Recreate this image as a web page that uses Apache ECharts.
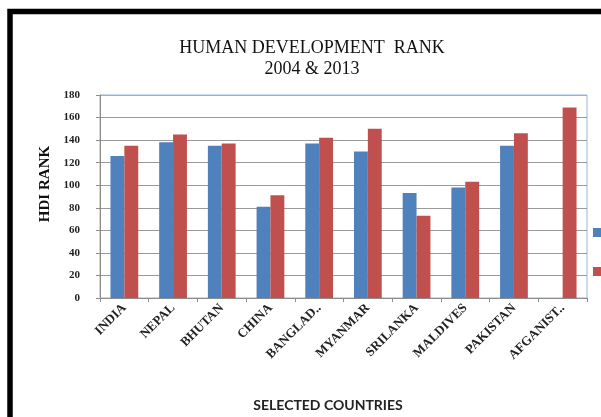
<!DOCTYPE html>
<html>
<head>
<meta charset="utf-8">
<script src="https://cdn.jsdelivr.net/npm/echarts@6/dist/echarts.min.js"></script>
<style>
  html, body { margin: 0; padding: 0; background: #fff; }
  #main { width: 601px; height: 417px; }
</style>
</head>
<body>
<div id="main"></div>
<script>
var countries = ['INDIA', 'NEPAL', 'BHUTAN', 'CHINA', 'BANGLAD..', 'MYANMAR', 'SRILANKA', 'MALDIVES', 'PAKISTAN', 'AFGANIST..'];
var rank2004 = [126, 138, 135, 81, 137, 130, 93, 98, 135, null];
var rank2013 = [135, 145, 137, 91, 142, 150, 73, 103, 146, 169];
var yTicks = [0, 20, 40, 60, 80, 100, 120, 140, 160, 180];

var chart = echarts.init(document.getElementById('main'));

// gridlines gray, the 180 one light blue like the frame
var gridColors = yTicks.map(function (v) { return v === 180 ? '#95b3d7' : '#9a9a9a'; });

var option = {
    animation: false,
    title: {
        text: 'HUMAN DEVELOPMENT  RANK\n2004 & 2013',
        left: 307,
        textAlign: 'center',
        top: 33,
        textStyle: {
            fontFamily: 'Liberation Serif',
            fontWeight: 'normal',
            fontSize: 18,
            lineHeight: 21,
            color: '#111'
        }
    },
    legend: {
        orient: 'vertical',
        left: 593,
        top: 228,
        padding: 0,
        itemWidth: 8,
        itemHeight: 9,
        itemGap: 30,
        icon: 'rect',
        textStyle: { fontSize: 8, lineHeight: 9 },
        data: ['2004', '2013']
    },
    grid: {
        left: 100,
        top: 95,
        right: 14,
        bottom: 119,
        show: true,
        borderColor: '#95b3d7',
        borderWidth: 1
    },
    xAxis: {
        type: 'category',
        data: countries,
        axisLine: { lineStyle: { color: '#8c8c8c' } },
        axisTick: { show: true, length: 4, lineStyle: { color: '#8c8c8c' } },
        axisLabel: {
            rotate: 45,
            margin: 8,
            interval: 0,
            fontFamily: 'Liberation Serif',
            fontWeight: 'bold',
            fontSize: 13,
            color: '#222'
        }
    },
    yAxis: {
        type: 'value',
        min: 0,
        max: 180,
        interval: 20,
        axisLine: { show: true, lineStyle: { color: '#8c8c8c' } },
        axisTick: { show: true, length: 4, lineStyle: { color: '#8c8c8c' } },
        axisLabel: {
            margin: 20,
            fontFamily: 'Liberation Serif',
            fontWeight: 'bold',
            fontSize: 11,
            color: '#222'
        },
        splitLine: { lineStyle: { color: gridColors, width: 1 } }
    },
    series: [
        {
            name: '2004',
            type: 'bar',
            data: rank2004,
            barGap: '0%',
            barCategoryGap: '43%',
            itemStyle: { color: '#4f81bd' }
        },
        {
            name: '2013',
            type: 'bar',
            data: rank2013,
            itemStyle: { color: '#c0504d' }
        }
    ],
    graphic: [
        {
            type: 'rect',
            shape: { x: 10, y: 11.5, width: 700, height: 600 },
            style: { fill: 'none', stroke: '#000', lineWidth: 5.5 },
            silent: true
        },
        {
            type: 'text',
            x: 45,
            y: 184,
            rotation: Math.PI / 2,
            style: {
                text: 'HDI RANK',
                fontFamily: 'Liberation Serif',
                fontWeight: 'bold',
                fontSize: 15,
                fill: '#111',
                align: 'center',
                verticalAlign: 'middle'
            }
        },
        {
            type: 'text',
            x: 328,
            y: 405,
            style: {
                text: 'SELECTED COUNTRIES',
                fontFamily: 'Lato',
                fontWeight: 'bold',
                fontSize: 14,
                fill: '#222',
                align: 'center',
                verticalAlign: 'middle'
            }
        }
    ]
};

chart.setOption(option);
</script>
</body>
</html>
